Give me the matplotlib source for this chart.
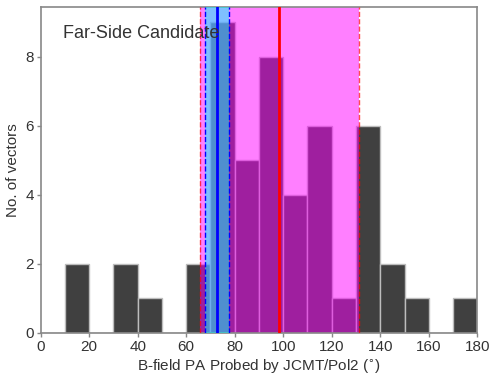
import matplotlib
matplotlib.use("Agg")
import matplotlib.pyplot as plt
import numpy as np

plt.rcParams['font.family'] = ['Liberation Sans', 'DejaVu Sans']

bin_left = [0, 10, 20, 30, 40, 50, 60, 70, 80, 90, 100, 110, 120, 130, 140, 150, 160, 170]
counts = [0, 2, 0, 2, 1, 0, 2, 9, 5, 8, 4, 6, 1, 6, 2, 1, 0, 1]
bin_width = 10

# Far-side candidate mean & spread
red_mean, red_lo, red_hi = 98.2, 65.6, 131.2
blue_mean, blue_lo, blue_hi = 72.7, 67.8, 77.7

fig = plt.figure(figsize=(4.98, 3.80), dpi=100)
ax = fig.add_axes([0.0817, 0.1245, 0.8767, 0.858])

ax.bar(bin_left, counts, width=bin_width, align='edge', color='#404040',
       edgecolor='#bdbdbd', linewidth=1.0, zorder=1)

ax.axvspan(red_lo, red_hi, color='magenta', alpha=0.5, lw=0, zorder=2)
ax.axvspan(blue_lo, blue_hi, color='cyan', alpha=0.5, lw=0, zorder=3)

ax.axvline(red_lo, color='red', ls='--', lw=1.0, alpha=0.7, zorder=4)
ax.axvline(red_hi, color='red', ls='--', lw=1.0, alpha=0.7, zorder=4)
ax.axvline(red_mean, color='red', lw=2.0, zorder=5)
ax.axvline(blue_lo, color='blue', ls='--', lw=1.0, zorder=4)
ax.axvline(blue_hi, color='blue', ls='--', lw=1.0, zorder=4)
ax.axvline(blue_mean, color='blue', lw=2.0, zorder=5)

ax.set_xlim(0, 180)
ax.set_ylim(0, 9.45)
ax.set_xticks(np.arange(0, 181, 20))
ax.set_yticks([0, 2, 4, 6, 8])

for s in ax.spines.values():
    s.set_color('#888888')
    s.set_linewidth(1.2)
ax.tick_params(colors='#888888', labelcolor='#333333', labelsize=11, length=3, width=1, pad=2)

ax.set_xlabel('B-field PA Probed by JCMT/Pol2 ($^{\\circ}$)', fontsize=11, color='#333333', labelpad=3)
ax.set_ylabel('No. of vectors', fontsize=11, color='#333333', labelpad=4)

ax.text(0.051, 0.919, 'Far-Side Candidate', transform=ax.transAxes, fontsize=13,
        color='#333333', va='center', ha='left', zorder=6)

fig.savefig('out.png', dpi=100)
